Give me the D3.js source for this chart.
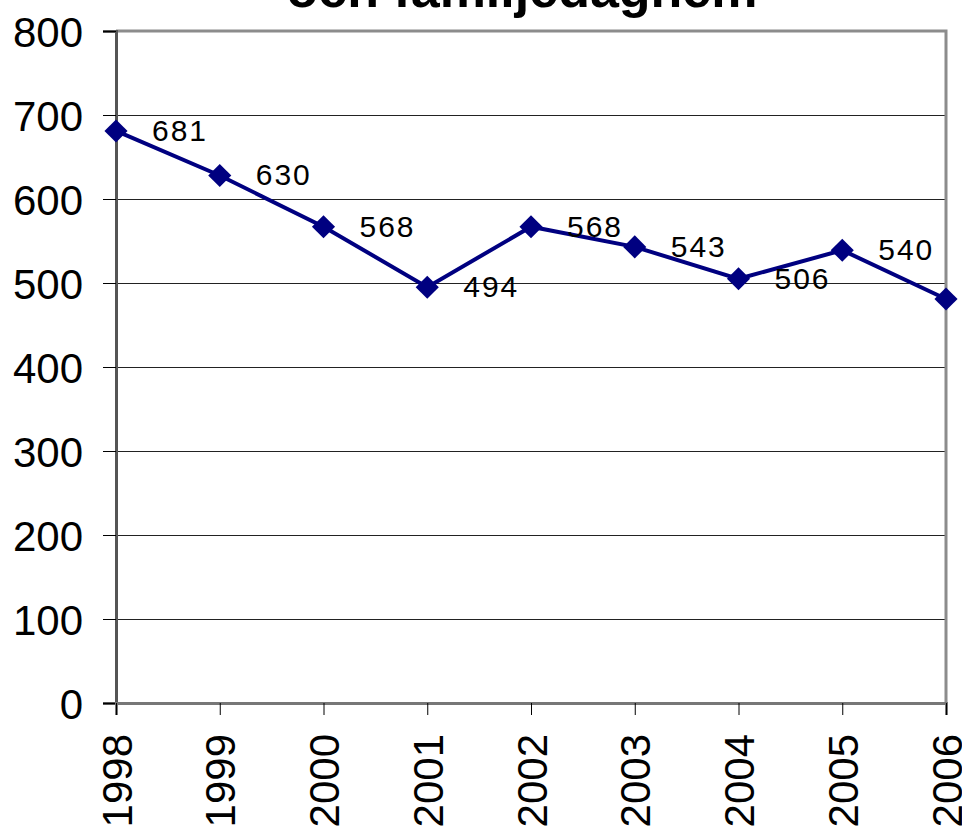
<!DOCTYPE html>
<html><head><meta charset="utf-8">
<script src="https://cdn.jsdelivr.net/npm/d3@7/dist/d3.min.js"></script>
<style>body{margin:0;background:#fff}svg{display:block}text{font-family:Arial,"Liberation Sans",sans-serif}</style>
</head><body><svg id="c" width="962" height="829"></svg>
<script>
const years = ["1998","1999","2000","2001","2002","2003","2004","2005","2006"];
const values = [681, 628, 567, 495, 567, 543, 505, 539, 481];
const labels = ["681","630","568","494","568","543","506","540",""];
const yTicks = [0,100,200,300,400,500,600,700,800];
const title = "och familjedaghem";

const svg = d3.select("#c");
const L = 116, R = 946, T = 31, B = 703;
const x = d3.scalePoint().domain(years).range([L, R]);
const y = d3.scaleLinear().domain([0, 800]).range([B, T]);

// title (partly cut)
svg.append("text").attr("x", 522).attr("y", 7).attr("text-anchor","middle")
  .attr("font-size", 52).attr("font-weight","bold").text(title);

// gridlines
svg.append("g").selectAll("line").data(yTicks.filter(d => d > 0 && d < 800)).join("line")
  .attr("x1", L).attr("x2", R).attr("y1", d => Math.round(y(d)) + 0.5).attr("y2", d => Math.round(y(d)) + 0.5)
  .attr("stroke", "#222").attr("stroke-width", 1).attr("shape-rendering","crispEdges");

// frame top/right
svg.append("path").attr("d", `M${L},${T}H${R}V${B}`).attr("fill","none")
  .attr("stroke","#8c8c8c").attr("stroke-width",3);

// y axis
const ya = svg.append("g").attr("transform", `translate(${L},0)`)
  .call(d3.axisLeft(y).tickValues(yTicks).tickSize(13).tickPadding(20));
ya.select(".domain").attr("stroke","#555").attr("stroke-width",3);
ya.selectAll(".tick line").attr("stroke","#000").attr("stroke-width",1);
ya.selectAll(".tick text").attr("font-size",42).attr("fill","#000").attr("dy","0.36em")
  .style("font-family","Arial, 'Liberation Sans', sans-serif");

// x axis
const xa = svg.append("g").attr("transform", `translate(0,${B})`)
  .call(d3.axisBottom(x).tickSize(12).tickPadding(0));
xa.select(".domain").attr("stroke","#777").attr("stroke-width",3);
xa.selectAll(".tick line").attr("stroke","#000").attr("stroke-width",1);
xa.selectAll(".tick text").attr("font-size",42).attr("fill","#000")
  .attr("transform","rotate(-90)").attr("text-anchor","end")
  .attr("x",-31).attr("y",0).attr("dy","0.36em")
  .style("font-family","Arial, 'Liberation Sans', sans-serif");

// line
const pts = years.map((yr,i) => ({yr, v: values[i], lab: labels[i]}));
svg.append("path").datum(pts)
  .attr("d", d3.line().x(d => x(d.yr)).y(d => y(d.v)))
  .attr("fill","none").attr("stroke","#000080").attr("stroke-width",4);

// markers
svg.append("g").selectAll("path").data(pts).join("path")
  .attr("transform", d => `translate(${x(d.yr)},${y(d.v)})`)
  .attr("d", d3.symbol().type(d3.symbolDiamond2).size(340))
  .attr("fill","#000080");

// data labels
svg.append("g").selectAll("text").data(pts).join("text")
  .attr("x", d => x(d.yr) + 64).attr("y", d => y(d.v) + 10)
  .attr("text-anchor","middle").attr("font-size",30).attr("letter-spacing",2)
  .attr("fill","#000").text(d => d.lab);
</script></body></html>
